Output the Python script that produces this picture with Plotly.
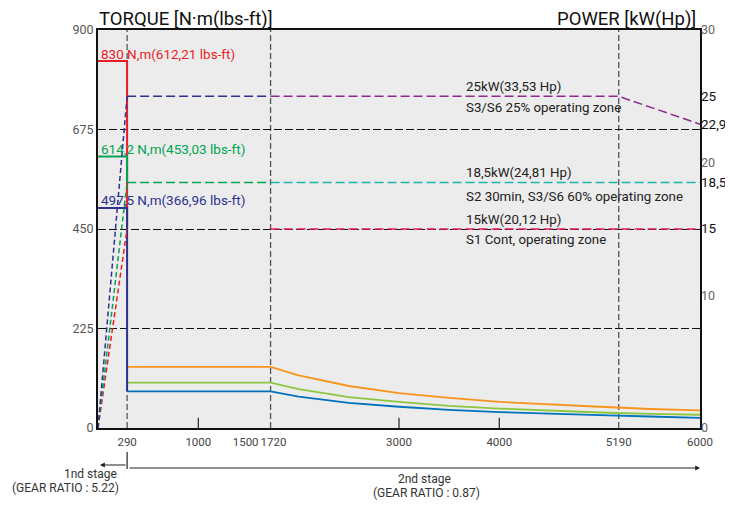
import plotly.graph_objects as go

# ---------------- data ----------------
speed_low = [0, 290, 290]
torque_red = [830, 830, 450]
torque_green = [614.2, 614.2, 555]
torque_navy = [497.5, 497.5, 83]

speed_high = [290, 1720, 2000, 2500, 3000, 3500, 4000, 4500, 5000, 5500, 6000]
torque_orange = [138.3, 138.3, 119, 95, 79, 68, 59, 53, 48, 43, 40]
torque_lgreen = [102.4, 102.4, 88, 70, 59, 50, 44, 39, 35, 32, 30]
torque_blue = [82.9, 82.9, 71, 57, 48, 41, 36, 32, 29, 26, 23]

ramp_x = [0, 290]
ramp_25 = [0, 25]
ramp_185 = [0, 18.5]
ramp_15 = [0, 15]

p25_a_x, p25_a_y = [290, 1720], [25, 25]
p25_b_x, p25_b_y = [1720, 5190, 6000], [25, 25, 22.9]
p185_a_x, p185_a_y = [290, 1720], [18.5, 18.5]
p185_b_x, p185_b_y = [1720, 6000], [18.5, 18.5]
p15_b_x, p15_b_y = [1720, 6000], [15, 15]

x_tickvals = [290, 1000, 1500, 1720, 3000, 4000, 5190, 6000]
x_ticktext = ["290", "1000", "1500\u00a0\u00a0", "\u00a0\u00a01720", "3000", "4000", "5190", "6000"]
x_gridlines = [290, 1720, 5190]
x_minor_ticks = [1000, 3000, 4000]
y_tickvals = [0, 225, 450, 675, 900]
y2_tickvals = [0, 10, 15, 18.5, 20, 22.9, 25, 30]
y2_ticktext = ["0", "10", "15", "18,5", "20", "22,9", "25", "30"]
y2_bold = {"15", "18,5", "22,9", "25"}

FONT = "Roboto"
RED = "#ed1c24"
GREEN = "#00a651"
NAVY = "#2e3192"
PURPLE = "#92278f"
TEAL = "#1fb5ad"
CRIMSON = "#e5175f"
ORANGE = "#f7941d"
LGREEN = "#8dc63f"
BLUE = "#0072bc"
PDASH = "9px,4px"

fig = go.Figure()

def line(x, y, color, dash="solid", width=2, yaxis="y"):
    fig.add_trace(go.Scatter(x=x, y=y, mode="lines", yaxis=yaxis,
                             line=dict(color=color, dash=dash, width=width),
                             hoverinfo="skip", showlegend=False))

# ramps (power axis)
line(ramp_x, ramp_15, RED, "5px,3px", 1.5, "y2")
line(ramp_x, ramp_185, GREEN, "5px,3px", 1.5, "y2")
line(ramp_x, ramp_25, NAVY, "5px,3px", 1.5, "y2")
# power lines
line(p15_b_x, p15_b_y, CRIMSON, PDASH, 1.5, "y2")
line(p185_a_x, p185_a_y, GREEN, PDASH, 1.5, "y2")
line(p185_b_x, p185_b_y, TEAL, PDASH, 1.5, "y2")
line(p25_a_x, p25_a_y, NAVY, PDASH, 1.5, "y2")
line(p25_b_x, p25_b_y, PURPLE, PDASH, 1.5, "y2")
# torque curves
line(speed_high, torque_orange, ORANGE, width=1.8)
line(speed_high, torque_lgreen, LGREEN, width=1.8)
line(speed_high, torque_blue, BLUE, width=1.8)
line(speed_low, torque_red, RED, width=2)
line(speed_low, torque_green, GREEN, width=2)
line(speed_low, torque_navy, NAVY, width=2)

shapes = []
for xv in x_gridlines:
    shapes.append(dict(type="line", xref="x", yref="paper", x0=xv, x1=xv, y0=0, y1=1,
                       line=dict(color="#555555", width=1.3, dash="6px,3px"), layer="below"))
for xv in x_minor_ticks:
    shapes.append(dict(type="line", xref="x", yref="paper", x0=xv, x1=xv, y0=0, y1=0.026,
                       line=dict(color="#333333", width=1.3)))

# page-pixel -> paper helpers (plot area spans page x 98..700, y 30..428)
def py(pix):
    return (428 - pix) / 398.0

def px(pix):
    return (pix - 98) / 602.0

# stage marker
shapes.append(dict(type="line", xref="x", yref="paper", x0=290, x1=290, y0=py(452), y1=py(469),
                   line=dict(color="#222222", width=1.2)))

ann = []
def text(t, x, y, color="#222222", size=13.3, xanchor="left", yanchor="middle"):
    ann.append(dict(text=t, x=px(x), y=py(y), xref="paper", yref="paper", showarrow=False,
                    xanchor=xanchor, yanchor=yanchor, font=dict(color=color, size=size, family=FONT)))

text("830 N,m(612,21 lbs-ft)", 99, 54, RED, 13.5)
text("614,2 N,m(453,03 lbs-ft)", 99, 149, GREEN, 13.5)
text("497,5 N,m(366,96 lbs-ft)", 99, 200, NAVY, 13.5)
text("25kW(33,53 Hp)", 464, 86)
text("S3/S6 25% operating zone", 464, 108)
text("18,5kW(24,81 Hp)", 464, 173)
text("S2 30min, S3/S6 60% operating zone", 464, 196)
text("15kW(20,12 Hp)", 464, 219)
text("S1 Cont, operating zone", 464, 240)
text("TORQUE [N·m(lbs-ft)]", 97, 19, "#111111", 18.5)
text("POWER [kW(Hp)]", 698, 19, "#111111", 18.5, xanchor="right")
text("1nd stage", 119, 474, "#333333", 12, xanchor="right")
text("(GEAR RATIO : 5.22)", 121, 488, "#333333", 12, xanchor="right")
text("2nd stage", 425, 479, "#333333", 12, xanchor="center")
text("(GEAR RATIO : 0.87)", 426, 493, "#333333", 12, xanchor="center")

# arrows
ann.append(dict(x=6000, y=py(468), xref="x", yref="paper", ax=-572, ay=0,
                showarrow=True, arrowhead=2, arrowsize=0.8, arrowwidth=1.2, arrowcolor="#222222", text=""))
ann.append(dict(x=20, y=py(465), xref="x", yref="paper", ax=27, ay=0,
                showarrow=True, arrowhead=2, arrowsize=0.8, arrowwidth=1.2, arrowcolor="#222222", text=""))

y2_labels = []
for t in y2_ticktext:
    if t in y2_bold:
        y2_labels.append(f"<span style='color:#111111;font-size:13.5px'>{t}</span>")
    else:
        y2_labels.append(f"<span style='color:#666666;font-size:12.5px'>{t}</span>")

# the page body adds an 8px offset, so the figure is 8px smaller and margins shifted
fig.update_layout(
    width=725, height=497,
    margin=dict(l=90, r=33, t=22, b=77),
    paper_bgcolor="white", plot_bgcolor="#ececec",
    font=dict(family=FONT, size=12.5, color="#555555"),
    shapes=shapes, annotations=ann,
    xaxis=dict(range=[0, 6000], tickvals=x_tickvals, ticktext=x_ticktext, showgrid=False,
               zeroline=False, showline=True, linecolor="#111111", linewidth=2, mirror=True,
               ticks="", tickangle=0, automargin=False, ticklabelstandoff=2,
               tickfont=dict(size=11.5, color="#444444")),
    yaxis=dict(range=[0, 900], tickvals=y_tickvals, showgrid=True, gridcolor="#111111",
               griddash="8px,3px", gridwidth=1, zeroline=False, showline=True, linecolor="#111111",
               linewidth=2, mirror=True, ticks="", automargin=False,
               tickfont=dict(size=12.5, color="#555555")),
    yaxis2=dict(range=[0, 30], overlaying="y", side="right", tickvals=y2_tickvals,
                ticktext=y2_labels, showgrid=False, zeroline=False, showline=False, ticks="",
                automargin=False, ticklabelstandoff=0, tickfont=dict(size=12.5, color="#666666")),
)

fig.write_html("out.html")
